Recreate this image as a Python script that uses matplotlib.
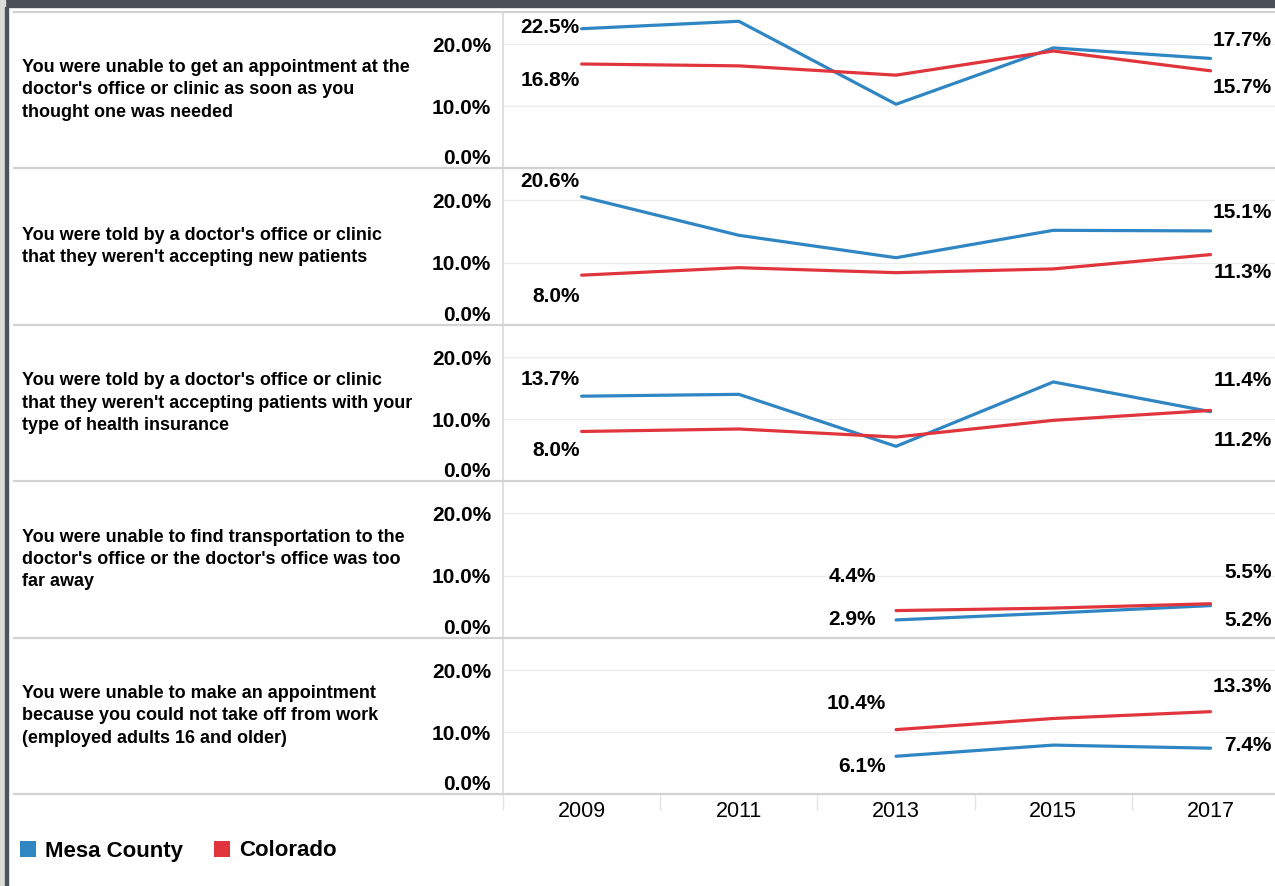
import numpy as np
import matplotlib.pyplot as plt
from matplotlib.patches import Patch, Rectangle
from matplotlib.lines import Line2D

plt.rcParams['font.family'] = ['Liberation Sans', 'DejaVu Sans']

years = ['2009', '2011', '2013', '2015', '2017']
nan = np.nan

questions = [
    "You were unable to get an appointment at the\ndoctor's office or clinic as soon as you\nthought one was needed",
    "You were told by a doctor's office or clinic\nthat they weren't accepting new patients",
    "You were told by a doctor's office or clinic\nthat they weren't accepting patients with your\ntype of health insurance",
    "You were unable to find transportation to the\ndoctor's office or the doctor's office was too\nfar away",
    "You were unable to make an appointment\nbecause you could not take off from work\n(employed adults 16 and older)",
]

mesa_appt_soon = [22.5, 23.7, 10.3, 19.4, 17.7]
colo_appt_soon = [16.8, 16.5, 15.0, 18.9, 15.7]
mesa_new_patients = [20.6, 14.4, 10.8, 15.2, 15.1]
colo_new_patients = [8.0, 9.2, 8.4, 9.0, 11.3]
mesa_insurance = [13.7, 14.0, 5.6, 16.0, 11.2]
colo_insurance = [8.0, 8.4, 7.1, 9.8, 11.4]
mesa_transport = [nan, nan, 2.9, 4.0, 5.2]
colo_transport = [nan, nan, 4.4, 4.8, 5.5]
mesa_work = [nan, nan, 6.1, 7.9, 7.4]
colo_work = [nan, nan, 10.4, 12.2, 13.3]

mesa = [mesa_appt_soon, mesa_new_patients, mesa_insurance, mesa_transport, mesa_work]
colo = [colo_appt_soon, colo_new_patients, colo_insurance, colo_transport, colo_work]

BLUE = '#2f86c3'
RED = '#e0353c'
W, H = 1275, 886

# label offsets in pixels (upper label, lower label) for first / last point
start_dy = [(1, -17), (15, -21), (17, -19), (34, 0), (26, -10)]
start_dx = [-2, -2, -2, -20, -10]
end_dy = [(18, -17), (18, -18), (30, -29), (31, -15), (25, 3)]

fig = plt.figure(figsize=(W / 100, H / 100), dpi=100)

def fx(px):
    return px / W

def fy(py):
    return 1 - py / H

# window frame
fig.patches.append(Rectangle((0, fy(7)), 1, 7 / H, transform=fig.transFigure, color='#4b4f58', zorder=0))
fig.patches.append(Rectangle((0, 0), fx(5), 1, transform=fig.transFigure, color='#dcdcd9', zorder=0))
fig.patches.append(Rectangle((fx(5), 0), fx(3), fy(7), transform=fig.transFigure, color='#50535b', zorder=0))

tops = [12, 168, 325, 481, 638]
bottoms = [168, 325, 481, 638, 794]
x = np.arange(len(years))

for i in range(5):
    ax = fig.add_axes([fx(503), fy(bottoms[i]), fx(W - 503), (bottoms[i] - tops[i]) / H])
    ax.set_xlim(-0.5, 4.41)
    ax.set_ylim(0, 25.2)
    for s in ['top', 'right', 'bottom']:
        ax.spines[s].set_visible(False)
    ax.spines['left'].set_color('#d9d9d9')
    ax.spines['left'].set_linewidth(1.2)
    ax.set_yticks([0, 10, 20])
    ax.set_yticklabels(['0.0%', '10.0%', '20.0%'], fontsize=15, fontweight='bold')
    ax.get_yticklabels()[0].set_va('bottom')
    ax.tick_params(axis='y', length=0, pad=8.6)
    for g in [10, 20]:
        ax.axhline(g, color='#ececec', lw=1, zorder=1)

    m = np.array(mesa[i], dtype=float)
    c = np.array(colo[i], dtype=float)
    ax.plot(x, m, color=BLUE, lw=2.3, zorder=3, solid_capstyle='round')
    ax.plot(x, c, color=RED, lw=2.3, zorder=4, solid_capstyle='round')

    first = int(np.where(~np.isnan(m))[0][0])
    last = len(years) - 1
    # first-point labels
    hi, lo = (m, c) if m[first] >= c[first] else (c, m)
    for arr, dy in [(hi, start_dy[i][0]), (lo, start_dy[i][1])]:
        ax.annotate(f'{arr[first]:.1f}%', (first, arr[first]), xytext=(start_dx[i], dy),
                    textcoords='offset pixels', ha='right', va='center',
                    fontsize=15, fontweight='bold', annotation_clip=False)
    # last-point labels
    hi, lo = (m, c) if m[last] >= c[last] else (c, m)
    for arr, dy in [(hi, end_dy[i][0]), (lo, end_dy[i][1])]:
        ax.annotate(f'{arr[last]:.1f}%', (last, arr[last]), xytext=(61, dy),
                    textcoords='offset pixels', ha='right', va='center',
                    fontsize=15, fontweight='bold', annotation_clip=False)

    fig.text(fx(22), fy((tops[i] + bottoms[i]) / 2), questions[i], ha='left', va='center',
             fontsize=13, fontweight='bold', linespacing=1.4)

    if i < 4:
        ax.set_xticks([])
    else:
        ax.set_xticks(x)
        ax.set_xticklabels(years, fontsize=15.5)
        ax.set_xticks([-0.5, 0.5, 1.5, 2.5, 3.5], minor=True)
        ax.tick_params(axis='x', which='major', length=0, pad=5)
        ax.tick_params(axis='x', which='minor', length=11.5, color='#e4e4e4', width=1)

# panel separators
for yy in [12] + bottoms:
    fig.lines.append(Line2D([fx(14), 1], [fy(yy), fy(yy)], transform=fig.transFigure,
                            color='#d2d2d2', lw=1.6, zorder=5))

# legend
handles = [Patch(facecolor=BLUE, edgecolor='none'), Patch(facecolor=RED, edgecolor='none')]
fig.legend(handles, ['Mesa County', 'Colorado'], loc='center left',
           bbox_to_anchor=(fx(20), fy(851)), ncol=2, frameon=False,
           prop={'size': 16, 'weight': 'bold'}, handlelength=0.73, handleheight=0.73,
           handletextpad=0.4, columnspacing=1.4, borderpad=0, borderaxespad=0)

fig.savefig('out.png', dpi=100)
